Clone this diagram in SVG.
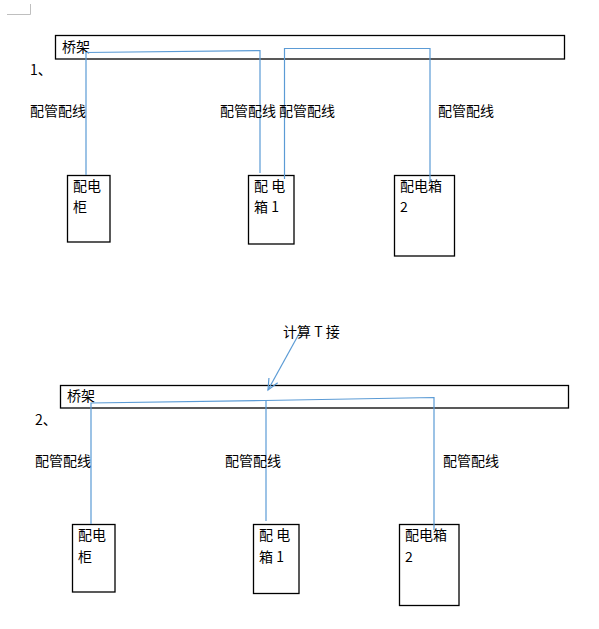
<svg xmlns="http://www.w3.org/2000/svg" width="599" height="629" viewBox="0 0 599 629">
<style>
.t{font-family:"Noto Sans CJK SC","Liberation Sans",sans-serif;font-size:14px;fill:#000}
.box{fill:#fff;stroke:#000;stroke-width:1.3}
.c{fill:none;stroke:#5b9bd5;stroke-width:1.2}
</style>
<defs>
<marker id="ah" markerWidth="14" markerHeight="14" refX="12" refY="6" orient="auto" markerUnits="userSpaceOnUse">
<path d="M1,1 L12,6 L1,11" fill="none" stroke="#5b9bd5" stroke-width="1.2"/>
</marker>
</defs>
<rect width="599" height="629" fill="#fff"/>
<path d="M7,14.5 H30.5 V4" fill="none" stroke="#bfbfbf" stroke-width="1"/>

<g id="bridge1"><rect class="box" x="55.5" y="35.5" width="509" height="23.5"/><text class="t" x="62" y="52">桥架</text></g>
<text class="t" x="30" y="75">1、</text>
<g id="bridge2"><rect class="box" x="60.5" y="385.5" width="508" height="22.5"/><text class="t" x="67" y="401">桥架</text></g>
<text class="t" x="35" y="425">2、</text>

<g id="b1-cabinet"><rect class="box" x="67.5" y="175.5" width="42.5" height="66.5"/><text class="t" x="73" y="191">配电</text><text class="t" x="73" y="212">柜</text></g>
<g id="b1-box1"><rect class="box" x="248.5" y="175.5" width="45.5" height="68.5"/><text class="t" x="254" y="191">配 电</text><text class="t" x="254" y="212">箱 1</text></g>
<g id="b1-box2"><rect class="box" x="394.5" y="175.5" width="60" height="80.5"/><text class="t" x="400" y="191">配电箱</text><text class="t" x="400" y="212">2</text></g>

<g id="b2-cabinet"><rect class="box" x="72.5" y="524.5" width="42.5" height="67.5"/><text class="t" x="78" y="540">配电</text><text class="t" x="78" y="562">柜</text></g>
<g id="b2-box1"><rect class="box" x="253.5" y="524.5" width="45.5" height="69"/><text class="t" x="259" y="540">配 电</text><text class="t" x="259" y="562">箱 1</text></g>
<g id="b2-box2"><rect class="box" x="399.5" y="524.5" width="59.5" height="81"/><text class="t" x="405" y="540">配电箱</text><text class="t" x="405" y="562">2</text></g>

<g id="connectors">
<path class="c" d="M86,175 V52.5 L260,50.5 V173"/>
<path class="c" d="M284.5,179 V48.5 H430 V182"/>
<path class="c" d="M91,524 V403 L265,400.5 L434,397.5 V530"/>
<path class="c" d="M266,401 V521"/>
<path class="c" d="M300,332 L268,390" marker-end="url(#ah)"/>
</g>

<g id="labels">
<text class="t" x="30" y="116">配管配线</text>
<text class="t" x="220" y="116">配管配线</text>
<text class="t" x="279" y="116">配管配线</text>
<text class="t" x="438" y="116">配管配线</text>
<text class="t" x="35" y="466">配管配线</text>
<text class="t" x="225" y="466">配管配线</text>
<text class="t" x="443" y="466">配管配线</text>
<text class="t" x="283" y="337">计算 T 接</text>
</g>
</svg>
